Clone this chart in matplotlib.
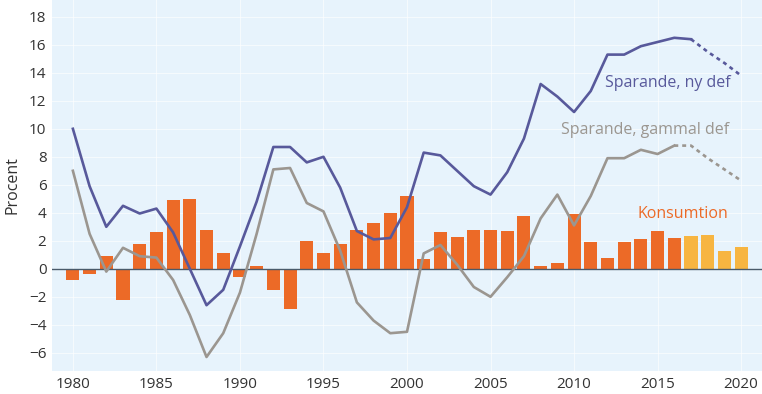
import numpy as np
import matplotlib.pyplot as plt
import matplotlib

matplotlib.rcParams['font.family'] = ['Open Sans', 'DejaVu Sans']

years = list(range(1980, 2021))

# Konsumtion, procent
konsumtion = [-0.8, -0.4, 0.9, -2.2, 1.8, 2.6, 4.9, 5.0, 2.8, 1.1,
              -0.6, 0.2, -1.5, -2.9, 2.0, 1.1, 1.8, 2.8, 3.3, 4.0,
              5.2, 0.7, 2.6, 2.3, 2.8, 2.8, 2.7, 3.8, 0.2, 0.4,
              3.9, 1.9, 0.8, 1.9, 2.1, 2.7, 2.2, 2.35, 2.45, 1.3, 1.55]
prognos_start = 2017

# Sparande, ny def
ny_def = [10.0, 5.9, 3.0, 4.5, 3.95, 4.3, 2.6, 0.0, -2.6, -1.5,
          1.6, 4.8, 8.7, 8.7, 7.6, 8.0, 5.8, 2.7, 2.1, 2.2,
          4.4, 8.3, 8.1, 7.0, 5.9, 5.3, 6.9, 9.3, 13.2, 12.3,
          11.2, 12.7, 15.3, 15.3, 15.9, 16.2, 16.5, 16.4, 15.5, 14.7, 13.8]
ny_solid_end = 2017

# Sparande, gammal def
gammal_def = [7.0, 2.5, -0.2, 1.5, 0.9, 0.8, -0.8, -3.3, -6.3, -4.6,
              -1.7, 2.5, 7.1, 7.2, 4.7, 4.1, 1.3, -2.4, -3.7, -4.6,
              -4.5, 1.1, 1.7, 0.3, -1.3, -2.0, -0.6, 0.9, 3.6, 5.3,
              3.1, 5.2, 7.9, 7.9, 8.5, 8.2, 8.8, 8.8, 7.9, 7.1, 6.3]
gammal_solid_end = 2016

yticks = list(range(-6, 19, 2))
xticks = list(range(1980, 2021, 5))

orange = '#ec6a27'
yellow = '#f7b541'
blue = '#58599b'
grey = '#9b9690'
textc = '#333333'

fig = plt.figure(figsize=(7.62, 3.94), dpi=100)
ax = fig.add_axes([52/762, 23/394, 710/762, 371/394])
ax.set_facecolor('#e7f3fc')

yrs = np.array(years)
kons = np.array(konsumtion)
cols = [yellow if y >= prognos_start else orange for y in years]
ax.bar(yrs, kons, width=0.78, color=cols, zorder=2)

ax.axhline(0, color='#4a5a6a', lw=1.0, zorder=3)

ny = np.array(ny_def)
m = yrs <= ny_solid_end
ax.plot(yrs[m], ny[m], color=blue, lw=1.9, zorder=4)
m2 = yrs >= ny_solid_end
ax.plot(yrs[m2], ny[m2], color=blue, lw=1.9, ls=(0, (1.5, 1.5)), zorder=4)

gd = np.array(gammal_def)
m = yrs <= gammal_solid_end
ax.plot(yrs[m], gd[m], color=grey, lw=1.9, zorder=4)
m2 = yrs >= gammal_solid_end
ax.plot(yrs[m2], gd[m2], color=grey, lw=1.9, ls=(0, (1.5, 1.5)), zorder=4)

ax.set_xlim(1978.75, 2021.25)
ax.set_ylim(-7.3, 19.2)
ax.set_yticks(yticks)
ax.set_xticks(xticks)
ax.grid(True, color='white', lw=0.8, alpha=0.6, zorder=0)
ax.set_axisbelow(True)
for s in ax.spines.values():
    s.set_visible(False)
ax.tick_params(length=0, labelsize=11, labelcolor=textc, pad=4)
ax.set_ylabel('Procent', fontsize=11.5, color=textc, labelpad=6)

ax.text(2019.4, 13.3, 'Sparande, ny def', color=blue, fontsize=11.5, ha='right', va='center')
ax.text(2019.3, 9.9, 'Sparande, gammal def', color=grey, fontsize=11.5, ha='right', va='center')
ax.text(2019.2, 3.9, 'Konsumtion', color=orange, fontsize=11.5, ha='right', va='center')

fig.savefig('out.png', dpi=100)
